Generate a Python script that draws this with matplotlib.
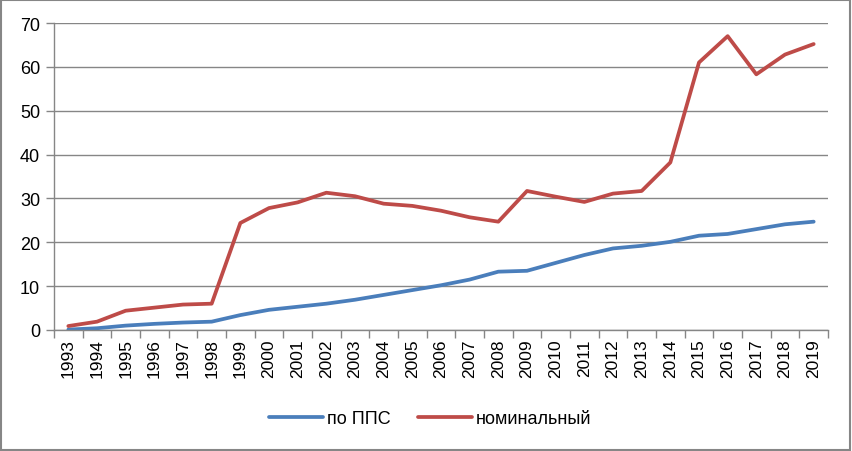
import matplotlib
matplotlib.use("Agg")
import matplotlib.pyplot as plt
import numpy as np
from matplotlib.patches import Rectangle

years = [str(y) for y in range(1993, 2020)]
ppp = [0.1, 0.4, 1.0, 1.4, 1.7, 1.9, 3.4, 4.6, 5.3, 6.0, 6.9, 8.0, 9.1, 10.2,
       11.5, 13.3, 13.5, 15.3, 17.1, 18.6, 19.2, 20.1, 21.5, 21.9, 23.0, 24.1, 24.7]
nominal = [0.9, 1.9, 4.4, 5.1, 5.8, 6.0, 24.4, 27.8, 29.1, 31.3, 30.5, 28.8, 28.3, 27.2,
           25.7, 24.7, 31.7, 30.4, 29.2, 31.1, 31.7, 38.2, 61.0, 67.0, 58.3, 62.8, 65.2]
yticks = [0, 10, 20, 30, 40, 50, 60, 70]
labels = ["по ППС", "номинальный"]

plt.rcParams['font.family'] = ['Liberation Sans', 'DejaVu Sans']

fig = plt.figure(figsize=(8.52, 4.52), dpi=100)
ax = fig.add_axes([54/852, 1-331/452, (828-54)/852, (331-24)/452])

x = np.arange(len(years))
ax.plot(x, ppp, color='#4a7ebb', lw=2.7, label=labels[0], solid_capstyle='round')
ax.plot(x, nominal, color='#be4b48', lw=2.7, label=labels[1], solid_capstyle='round')

ax.set_xlim(-0.5, len(years)-0.5)
ax.set_ylim(0, 70)
ax.set_yticks(yticks)
ax.set_yticklabels([str(v) for v in yticks], fontsize=13)
ax.yaxis.grid(True, color='#868686', lw=1)
ax.set_axisbelow(True)

ax.set_xticks(x)
ax.set_xticklabels(years, rotation=90, fontsize=12.5)
ax.tick_params(axis='x', length=0, pad=6)
ax.set_xticks(np.arange(-0.5, len(years)), minor=True)
ax.tick_params(axis='x', which='minor', length=6, color='#868686', width=1)
ax.tick_params(axis='y', length=6, color='#868686', width=1, pad=4)

for s in ['top', 'right']:
    ax.spines[s].set_visible(False)
for s in ['left', 'bottom']:
    ax.spines[s].set_color('#868686')
    ax.spines[s].set_linewidth(1)

leg = fig.legend(loc='center', bbox_to_anchor=(430/852, 1-420/452), ncol=2,
                 frameon=False, fontsize=13, handlelength=3.0, columnspacing=1.5,
                 handletextpad=0.2)

fig.patches.append(Rectangle((0.001, 0.002), 0.997, 0.995, transform=fig.transFigure,
                             fill=False, edgecolor='#868686', lw=1.5))

fig.savefig('out.png', dpi=100)
